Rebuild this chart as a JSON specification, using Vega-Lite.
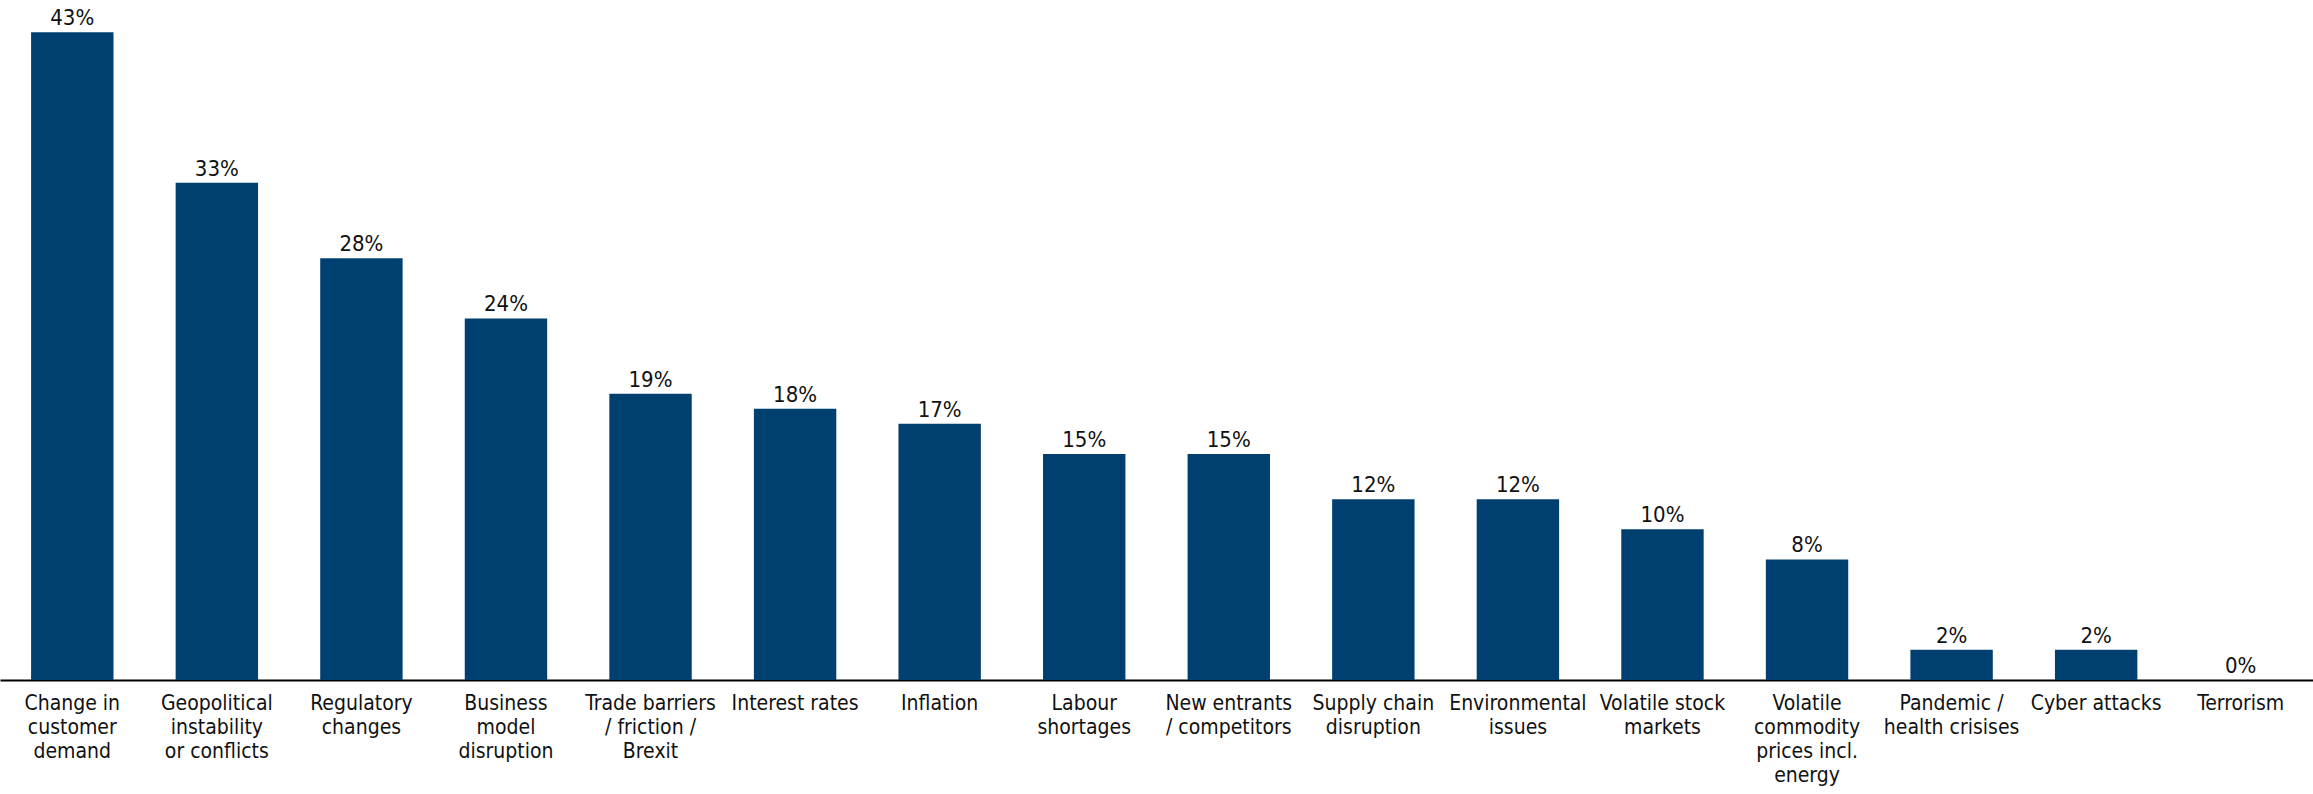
{
  "$schema": "https://vega.github.io/schema/vega-lite/v6.json",
  "width": 2313,
  "height": 678,
  "autosize": {"type": "none"},
  "padding": {"left": 0, "top": 2, "right": 0, "bottom": 114},
  "background": "white",
  "config": {"view": {"stroke": null}, "font": "DejaVu Sans Condensed"},
  "data": {
    "values": [
      {"risk": "Change in|customer|demand", "value": 0.43},
      {"risk": "Geopolitical|instability|or conflicts", "value": 0.33},
      {"risk": "Regulatory|changes", "value": 0.28},
      {"risk": "Business|model|disruption", "value": 0.24},
      {"risk": "Trade barriers|/ friction /|Brexit", "value": 0.19},
      {"risk": "Interest rates", "value": 0.18},
      {"risk": "Inflation", "value": 0.17},
      {"risk": "Labour|shortages", "value": 0.15},
      {"risk": "New entrants|/ competitors", "value": 0.15},
      {"risk": "Supply chain|disruption", "value": 0.12},
      {"risk": "Environmental|issues", "value": 0.12},
      {"risk": "Volatile stock|markets", "value": 0.10},
      {"risk": "Volatile|commodity|prices incl.|energy", "value": 0.08},
      {"risk": "Pandemic /|health crisises", "value": 0.02},
      {"risk": "Cyber attacks", "value": 0.02},
      {"risk": "Terrorism", "value": 0}
    ]
  },
  "encoding": {
    "x": {
      "field": "risk",
      "type": "nominal",
      "sort": null,
      "scale": {"paddingInner": 0.43, "paddingOuter": 0.215},
      "axis": {
        "title": null,
        "labelAngle": 0,
        "labelExpr": "split(datum.label, '|')",
        "labelFont": "DejaVu Sans Condensed",
        "labelFontSize": 21,
        "labelLineHeight": 24,
        "labelColor": "#111111",
        "labelPadding": 12,
        "labelBaseline": "top",
        "labelLimit": 0,
        "ticks": false,
        "domainColor": "#000000",
        "domainOpacity": 1,
        "domainWidth": 2,
        "labelAlign": "center"
      }
    },
    "y": {
      "field": "value",
      "type": "quantitative",
      "scale": {"domain": [0, 0.45], "nice": false},
      "axis": null
    }
  },
  "layer": [
    {"mark": {"type": "bar", "color": "#004070"}},
    {
      "mark": {
        "type": "text",
        "baseline": "alphabetic",
        "dy": -7,
        "fontSize": 22,
        "font": "DejaVu Sans Condensed",
        "color": "#111111"
      },
      "encoding": {"text": {"field": "value", "type": "quantitative", "format": ".0%"}}
    }
  ]
}
